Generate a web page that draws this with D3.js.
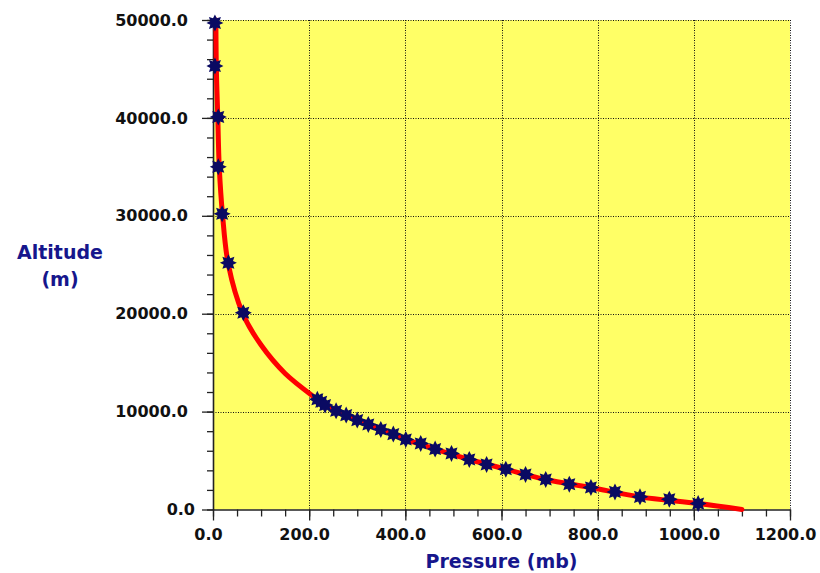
<!DOCTYPE html>
<html><head><meta charset="utf-8">
<script src="https://cdn.jsdelivr.net/npm/d3@7"></script>
<style>body{margin:0;background:#fff} svg{display:block}</style>
</head><body><svg id="c" width="820" height="573"></svg>
<script>
const pressureTicks = [0, 200, 400, 600, 800, 1000, 1200];
const altitudeTicks = [0, 10000, 20000, 30000, 40000, 50000];
const pressureMinorTicks = d3.range(0, 1201, 50);
const altitudeMinorTicks = d3.range(0, 50001, 2000);

// observed points (pressure mb, altitude m)
const markerPressure = [4, 4, 11, 11, 19, 32, 63, 217, 225, 233, 256, 277, 300, 323, 349, 375, 401, 432, 462, 496, 533, 569, 609, 650, 692, 741, 786, 836, 888, 949, 1009];
const markerAltitude = [49700, 45300, 40100, 35000, 30200, 25200, 20100, 11250, 11000, 10670, 10080, 9640, 9130, 8690, 8180, 7700, 7160, 6750, 6170, 5730, 5110, 4600, 4120, 3580, 3070, 2590, 2250, 1800, 1290, 1050, 610];

// fitted curve
const linePressure = [6, 7, 10, 13, 20, 32, 62, 100, 150, 217, 233, 256, 300, 349, 401, 462, 533, 609, 692, 786, 888, 1009, 1100];
const lineAltitude = [50000, 45000, 40000, 35000, 30000, 25000, 20000, 16800, 13900, 11250, 10670, 10080, 9130, 8180, 7160, 6170, 5110, 4120, 3070, 2250, 1290, 610, 0];

const svg = d3.select("#c");
const x = d3.scaleLinear().domain([0, 1200]).range([213, 790]);
const y = d3.scaleLinear().domain([0, 50000]).range([509.5, 20]);
const fmt = d3.format(".1f");
const FONT = "'DejaVu Sans', Verdana, sans-serif";

svg.append("rect").attr("width", 820).attr("height", 573).attr("fill", "#fff");

// plot background
svg.append("rect")
  .attr("x", x(0)).attr("y", y(50000))
  .attr("width", x(1200) - x(0)).attr("height", y(0) - y(50000))
  .attr("fill", "#ffff66");

// grid
const grid = svg.append("g").attr("stroke", "#111").attr("stroke-width", 1).attr("stroke-dasharray", "1,1.5");
grid.selectAll("line.v").data(pressureTicks.filter(d => d > 0)).join("line")
  .attr("x1", d => Math.round(x(d)) + 0.5).attr("x2", d => Math.round(x(d)) + 0.5)
  .attr("y1", y(50000)).attr("y2", y(0));
grid.selectAll("line.h").data(altitudeTicks.filter(d => d > 0)).join("line")
  .attr("x1", x(0)).attr("x2", x(1200))
  .attr("y1", d => Math.round(y(d)) + 0.5).attr("y2", d => Math.round(y(d)) + 0.5);

// minor ticks
const yMinor = svg.append("g").attr("transform", `translate(${x(0)},0)`)
  .call(d3.axisLeft(y).tickValues(altitudeMinorTicks).tickSize(6).tickFormat(""));
yMinor.select(".domain").remove();
const xMinor = svg.append("g").attr("transform", `translate(0,${y(0)})`)
  .call(d3.axisBottom(x).tickValues(pressureMinorTicks).tickSize(7).tickFormat(""));
xMinor.select(".domain").remove();

// major axes
const yAx = svg.append("g").attr("transform", `translate(${x(0)},0)`)
  .call(d3.axisLeft(y).tickValues(altitudeTicks).tickSize(11).tickSizeOuter(0).tickPadding(14).tickFormat(fmt));
const xAx = svg.append("g").attr("transform", `translate(0,${y(0)})`)
  .call(d3.axisBottom(x).tickValues(pressureTicks).tickSize(11).tickSizeOuter(0).tickPadding(8).tickFormat(fmt));

svg.selectAll(".tick line").attr("stroke", "#222").attr("stroke-width", 1.3);
svg.selectAll(".domain").attr("stroke", "#222").attr("stroke-width", 1.6);
[yAx, xAx].forEach(a => a.selectAll("text")
  .attr("font-family", FONT).attr("font-weight", "bold").attr("font-size", 16).attr("fill", "#111"));
yAx.selectAll(".tick text").attr("dx", d => d === 0 ? 7 : 0);
xAx.selectAll(".tick text").attr("dx", -5);

// fitted line
const line = d3.line().x(i => x(linePressure[i])).y(i => y(lineAltitude[i])).curve(d3.curveCatmullRom.alpha(0.5));
svg.append("path")
  .attr("d", line(d3.range(linePressure.length)))
  .attr("fill", "none").attr("stroke", "#ff0000").attr("stroke-width", 5)
  .attr("stroke-linecap", "round").attr("stroke-linejoin", "round");

// star markers (8-point)
function star(ro, ri, n) {
  const pts = [];
  for (let k = 0; k < 2 * n; k++) {
    const r = k % 2 === 0 ? ro : ri;
    const a = Math.PI * k / n - Math.PI / 2;
    pts.push([r * Math.cos(a), r * Math.sin(a)]);
  }
  return "M" + pts.map(p => p.join(",")).join("L") + "Z";
}
const starPath = star(8.5, 5, 8);
svg.append("g").selectAll("path").data(d3.range(markerPressure.length)).join("path")
  .attr("d", starPath)
  .attr("transform", i => `translate(${x(markerPressure[i])},${y(markerAltitude[i])})`)
  .attr("fill", "#0a0a62");

// axis titles
const TC = "#16168c";
const yt = svg.append("text").attr("font-family", FONT).attr("font-weight", "bold")
  .attr("font-size", 19).attr("fill", TC).attr("text-anchor", "middle");
yt.append("tspan").attr("x", 60).attr("y", 259).text("Altitude");
yt.append("tspan").attr("x", 60).attr("y", 286).text("(m)");
svg.append("text").attr("x", (x(0) + x(1200)) / 2).attr("y", 568)
  .attr("font-family", FONT).attr("font-weight", "bold").attr("font-size", 19)
  .attr("fill", TC).attr("text-anchor", "middle").text("Pressure (mb)");
</script></body></html>
